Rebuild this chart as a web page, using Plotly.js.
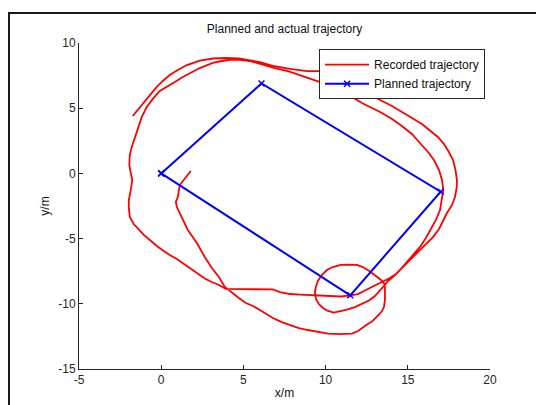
<!DOCTYPE html>
<html>
<head>
<meta charset="utf-8">
<script src="https://cdn.plot.ly/plotly-3.0.1.min.js"></script>
<style>
  html, body { margin: 0; padding: 0; background: #fff; }
  #wrap { position: relative; width: 536px; height: 405px; overflow: hidden; }
  #chart { position: absolute; left: 0; top: 0; width: 536px; height: 405px; }
  /* figure window edge along the top and left */
  #frame { position: absolute; left: 8px; top: 12px; width: 600px; height: 500px;
           border-left: 2px solid #1a1a1a; border-top: 2px solid #1a1a1a; pointer-events: none; }
</style>
</head>
<body>
<div id="wrap">
  <div id="chart"></div>
  <div id="frame"></div>
</div>
<script>
// Planned route: waypoints in metres
const plannedX = [0, 6.1, 17.0, 11.5, 0];
const plannedY = [0, 6.9, -1.4, -9.35, 0];

// Recorded route, one continuous run split into legs for readability
// leg 1: from the start point down and round the southern arc
const leg1X = [1.80, 1.44, 1.13, 1.01, 0.89, 0.95, 1.25, 1.62, 2.17, 2.65, 3.08, 3.51, 3.87, 4.30, 4.72, 5.15, 5.58, 6.00, 6.43, 6.79, 7.34, 7.83, 8.37, 8.92, 9.53, 10.14, 10.87, 11.60, 11.97, 12.21, 12.57, 12.82, 13.06, 13.24, 13.43, 13.55, 13.61, 13.63, 13.61, 13.58];
const leg1Y = [0.18, -0.35, -0.89, -1.81, -2.19, -2.58, -3.34, -4.34, -5.34, -6.41, -7.25, -7.94, -8.71, -9.17, -9.56, -9.94, -10.17, -10.48, -10.78, -11.09, -11.40, -11.63, -11.86, -12.01, -12.16, -12.28, -12.32, -12.28, -12.09, -11.86, -11.55, -11.36, -11.09, -10.84, -10.55, -10.25, -9.71, -9.25, -8.71, -8.48];
// leg 2: small loop round the third waypoint
const leg2X = [13.37, 13.06, 12.70, 12.27, 11.90, 11.42, 10.93, 10.44, 10.08, 9.77, 9.53, 9.41, 9.35, 9.41, 9.59, 9.84, 10.14, 10.50, 10.87, 11.30, 11.78, 12.21, 12.64, 13.00, 13.30, 13.55, 13.79];
const leg2Y = [-8.17, -7.87, -7.52, -7.18, -7.02, -6.99, -7.02, -7.18, -7.41, -7.79, -8.25, -8.71, -9.10, -9.63, -10.02, -10.32, -10.55, -10.67, -10.59, -10.44, -10.25, -10.02, -9.75, -9.40, -9.02, -8.63, -8.25];
// leg 3: first lap, inner side, back down the west edge
const leg3X = [14.16, 14.52, 14.89, 15.31, 15.74, 16.10, 16.41, 16.71, 16.96, 17.08, 17.16, 17.08, 16.90, 16.59, 16.23, 15.74, 15.25, 14.64, 14.04, 13.43, 12.82, 12.21, 11.60, 10.99, 10.38, 9.65, 8.86, 8.13, 7.71, 6.91, 6.12, 5.39, 4.78, 4.18, 3.69, 3.14, 2.35, 1.74, 1.31, 0.83, 0.40, -0.09, -0.51, -0.88, -1.18, -1.36, -1.61, -1.79, -1.91, -1.94, -1.85, -1.76, -1.85, -1.97, -1.97, -1.91, -1.67, -1.42, -1.06, -0.69, -0.27, 0.16, 0.52, 0.95, 1.38, 1.80, 2.23, 2.65, 3.08, 3.51, 3.93];
const leg3Y = [-7.87, -7.41, -6.87, -6.33, -5.64, -4.95, -4.26, -3.57, -2.81, -2.04, -1.27, -0.51, 0.26, 1.03, 1.64, 2.33, 3.02, 3.64, 4.17, 4.63, 5.02, 5.40, 5.86, 6.32, 6.70, 7.01, 7.39, 7.70, 7.85, 8.08, 8.39, 8.62, 8.70, 8.70, 8.62, 8.47, 8.08, 7.70, 7.39, 7.01, 6.70, 6.32, 5.71, 5.09, 4.33, 3.64, 2.79, 2.02, 1.41, 0.64, 0.03, -0.51, -1.27, -2.04, -2.65, -3.34, -3.88, -4.26, -4.72, -5.11, -5.57, -5.95, -6.26, -6.56, -6.95, -7.33, -7.71, -8.06, -8.33, -8.56, -8.86];
// leg 4: straight run east along y = -9
const leg4X = [4.48, 5.39, 6.31, 6.79, 7.22, 7.83, 8.44, 9.04, 9.65, 10.26, 10.93, 11.48, 11.97, 12.45, 12.82, 13.18, 13.55, 13.91, 14.28, 14.58, 14.83];
const leg4Y = [-8.86, -8.86, -8.86, -8.90, -9.10, -9.25, -9.29, -9.33, -9.36, -9.40, -9.44, -9.36, -9.25, -8.94, -8.71, -8.48, -8.25, -8.02, -7.71, -7.33, -7.02];
// leg 5: second lap, outer side, ending in the north-west
const leg5X = [15.19, 15.62, 16.04, 16.53, 16.90, 17.14, 17.38, 17.69, 17.87, 17.97, 17.99, 17.90, 17.75, 17.50, 17.20, 16.83, 16.41, 15.86, 15.25, 14.64, 14.04, 13.43, 12.82, 12.21, 11.48, 10.57, 9.65, 8.86, 7.83, 6.79, 6.00, 5.33, 4.72, 3.93, 3.14, 2.35, 1.56, 1.01, 0.52, 0.10, -0.27, -0.57, -0.88, -1.12, -1.42, -1.73];
const leg5Y = [-6.56, -6.03, -5.49, -4.88, -4.26, -3.65, -3.04, -2.42, -1.81, -1.12, -0.51, 0.26, 1.03, 1.64, 2.25, 2.79, 3.25, 3.79, 4.25, 4.71, 5.17, 5.55, 5.94, 6.32, 6.78, 7.39, 7.85, 7.85, 8.01, 8.24, 8.54, 8.70, 8.81, 8.85, 8.81, 8.64, 8.31, 7.93, 7.55, 7.09, 6.63, 6.17, 5.71, 5.32, 4.86, 4.40];

const recordedX = [].concat(leg1X, leg2X, leg3X, leg4X, leg5X);
const recordedY = [].concat(leg1Y, leg2Y, leg3Y, leg4Y, leg5Y);

// Axis ticks and their labels (plain hyphen for negatives)
const xTicks = [-5, 0, 5, 10, 15, 20];
const xTickText = ['-5', '0', '5', '10', '15', '20'];
const yTicks = [-15, -10, -5, 0, 5, 10];
const yTickText = ['-15', '-10', '-5', '0', '5', '10'];

const font = 'Liberation Sans, Arial, Helvetica, sans-serif';
const ink = '#262626';

const traces = [
  {
    x: recordedX, y: recordedY, type: 'scatter', mode: 'lines',
    name: 'Recorded trajectory',
    line: { color: '#ff0000', width: 1.8 }
  },
  {
    x: plannedX, y: plannedY, type: 'scatter', mode: 'lines+markers',
    name: 'Planned trajectory',
    line: { color: '#0000ff', width: 2 },
    marker: { symbol: 'x-thin', size: 6, line: { color: '#0000ff', width: 1.5 } }
  }
];

const axisCommon = {
  showgrid: false, zeroline: false, showline: true, linecolor: ink, linewidth: 1,
  ticks: 'inside', ticklen: 4, tickwidth: 1, tickcolor: ink, mirror: false,
  tickfont: { family: font, size: 12, color: ink }, automargin: false, fixedrange: true
};

const layout = {
  width: 536, height: 405,
  margin: { l: 79, r: 46, t: 43, b: 36 },
  paper_bgcolor: '#ffffff', plot_bgcolor: '#ffffff',
  title: {
    text: 'Planned and actual trajectory',
    font: { family: font, size: 12, color: '#111' },
    x: 0.5, xref: 'paper', xanchor: 'center',
    y: 1 - 29 / 405, yref: 'container', yanchor: 'middle'
  },
  xaxis: Object.assign({}, axisCommon, {
    range: [-5, 20], tickvals: xTicks, ticktext: xTickText,
    title: { text: 'x/m', font: { family: font, size: 12, color: '#111' }, standoff: 2 }
  }),
  yaxis: Object.assign({}, axisCommon, {
    range: [-15, 10], tickvals: yTicks, ticktext: yTickText,
    title: { text: 'y/m', font: { family: font, size: 12, color: '#111' }, standoff: 6 }
  }),
  legend: {
    x: 0.988, xanchor: 'right', y: 0.981, yanchor: 'top',
    bgcolor: '#ffffff', bordercolor: ink, borderwidth: 1,
    font: { family: font, size: 12, color: '#111' },
    itemwidth: 44
  },
  showlegend: true
};

Plotly.newPlot('chart', traces, layout, { staticPlot: true, displayModeBar: false });
</script>
</body>
</html>
